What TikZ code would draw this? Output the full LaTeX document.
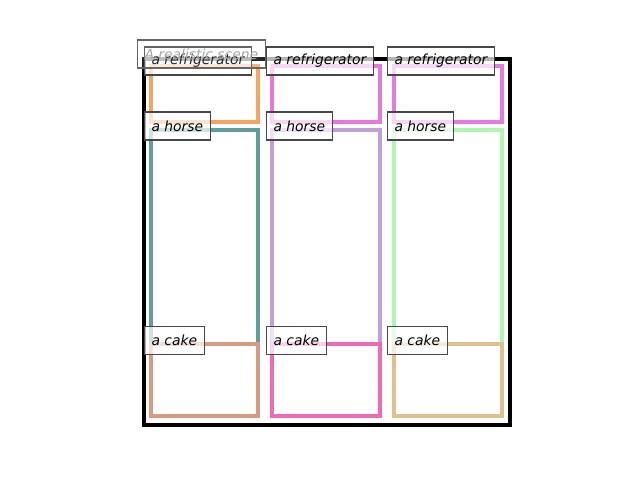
\documentclass[tikz,border=0pt]{standalone}
\usepackage{fontspec}
\setmainfont{DejaVu Sans}
\begin{document}
\begin{tikzpicture}[x=0.72pt,y=-0.72pt,
  lbl/.style={draw=black!72, fill=white, fill opacity=0.7, text opacity=1,
    line width=0.8pt, inner xsep=5pt, inner ysep=0pt, minimum height=20.2pt,
    anchor=west, font=\itshape\fontsize{10}{12}\selectfont},
  obj/.style={line width=2.2pt, line join=miter},
  ]
\definecolor{cA1}{HTML}{F4A460}
\definecolor{cA2}{HTML}{5F9E9A}
\definecolor{cA3}{HTML}{D99A82}
\definecolor{cB1}{HTML}{E679D8}
\definecolor{cB2}{HTML}{C09ED8}
\definecolor{cB3}{HTML}{EC6CB4}
\definecolor{cC1}{HTML}{E47AE4}
\definecolor{cC2}{HTML}{AEF6B2}
\definecolor{cC3}{HTML}{DCC08E}
\useasboundingbox (0,0) rectangle (640,480);
\fill[white] (0,0) rectangle (640,480);
% frame
\draw[line width=2.2pt] (144,59) rectangle (510,425);
% objects
\draw[obj, cA1] (151,66) rectangle (258,122);
\draw[obj, cA2] (151,130) rectangle (258,344);
\draw[obj, cA3] (151,344) rectangle (258,416);
\draw[obj, cB1] (272,66) rectangle (380,122);
\draw[obj, cB2] (272,130) rectangle (380,344);
\draw[obj, cB3] (272,344) rectangle (380,416);
\draw[obj, cC1] (394,66) rectangle (502,122);
\draw[obj, cC2] (394,130) rectangle (502,344);
\draw[obj, cC3] (394,344) rectangle (502,416);
% labels
\node[lbl] (f1) at (144,61) {a refrigerator};
\node[lbl] (f2) at (266,61) {a refrigerator};
\node[lbl] (f3) at (387,61) {a refrigerator};
\node[lbl] (h1) at (144,126) {a horse};
\node[lbl] (h2) at (266,126) {a horse};
\node[lbl] (h3) at (387,126) {a horse};
\node[lbl] (k1) at (144,340.5) {a cake};
\node[lbl] (k2) at (266,340.5) {a cake};
\node[lbl] (k3) at (387,340.5) {a cake};
% title (faint, on top)
\node[lbl, text=black!35, draw=black!60, fill opacity=0.15] (title) at (137,54) {A realistic scene};
\end{tikzpicture}
\end{document}
